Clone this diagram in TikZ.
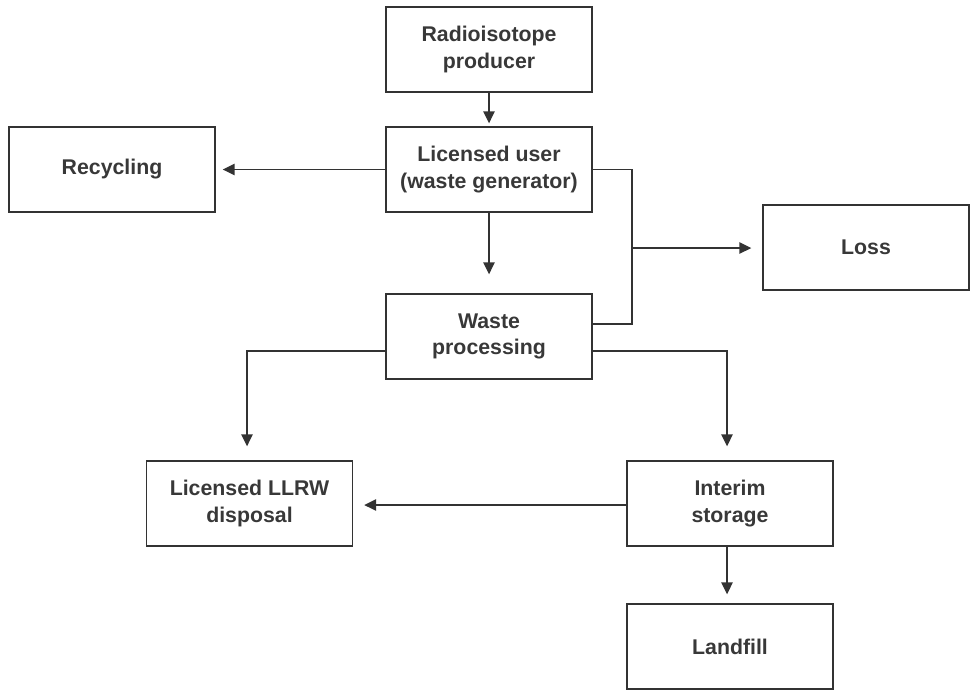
\documentclass[tikz,border=0pt]{standalone}
\usepackage{fontspec}
\setmainfont{Liberation Sans}
\usetikzlibrary{arrows.meta,calc}
\definecolor{ink}{HTML}{333333}
\definecolor{txt}{HTML}{383838}
\tikzset{
  box/.style={draw=ink, line width=1.4pt, minimum width=206pt, minimum height=85pt,
    inner sep=0pt, align=center, text=txt,
    font=\bfseries\fontsize{21.3}{26.5}\selectfont},
  conn/.style={draw=ink, line width=1.5pt},
  arr/.style={conn, -{Triangle[length=12pt,width=11.5pt]}},
}
\begin{document}
\begin{tikzpicture}[x=1pt,y={(0pt,-1pt)}]
\useasboundingbox (0,0) rectangle (972,689);
\node[box] (prod) at (489,49.5) {Radioisotope\\producer};
\node[box] (user) at (489,169.5) {Licensed user\\(waste generator)};
\node[box] (recy) at (112,169.5) {Recycling};
\node[box] (loss) at (866,247.5) {Loss};
\node[box] (proc) at (489,336.5) {Waste\\processing};
\node[box] (llrw) at (249.5,503.5) {Licensed LLRW\\disposal};
\node[box] (interim) at (730,503.5) {Interim\\storage};
\node[box] (land) at (730,646.5) {Landfill};

\coordinate (ua) at (632,169.5);
\coordinate (pa) at (632,324);
\coordinate (mid) at (632,248);
\coordinate (pl) at (247,351);
\coordinate (pr) at (727,351);

\draw[arr, shorten >=3pt] (prod.south) -- (user.north);
\draw[arr, shorten >=7pt] (user.west) -- (recy.east);
\draw[arr, shorten >=19pt] (user.south) -- (proc.north);
\draw[conn] (user.east) -- (ua) -- (pa) -- (proc.east |- pa);
\draw[arr, shorten >=11pt] (mid) -- (loss.west |- mid);
\draw[arr, shorten >=14pt] (proc.west |- pl) -- (pl) -- (llrw.north -| pl);
\draw[arr, shorten >=14pt] (proc.east |- pr) -- (pr) -- (interim.north -| pr);
\draw[arr, shorten >=11pt] (interim.west |- 0,505) -- (llrw.east |- 0,505);
\draw[arr, shorten >=9pt] (interim.south -| 727,0) -- (land.north -| 727,0);
\end{tikzpicture}
\end{document}
